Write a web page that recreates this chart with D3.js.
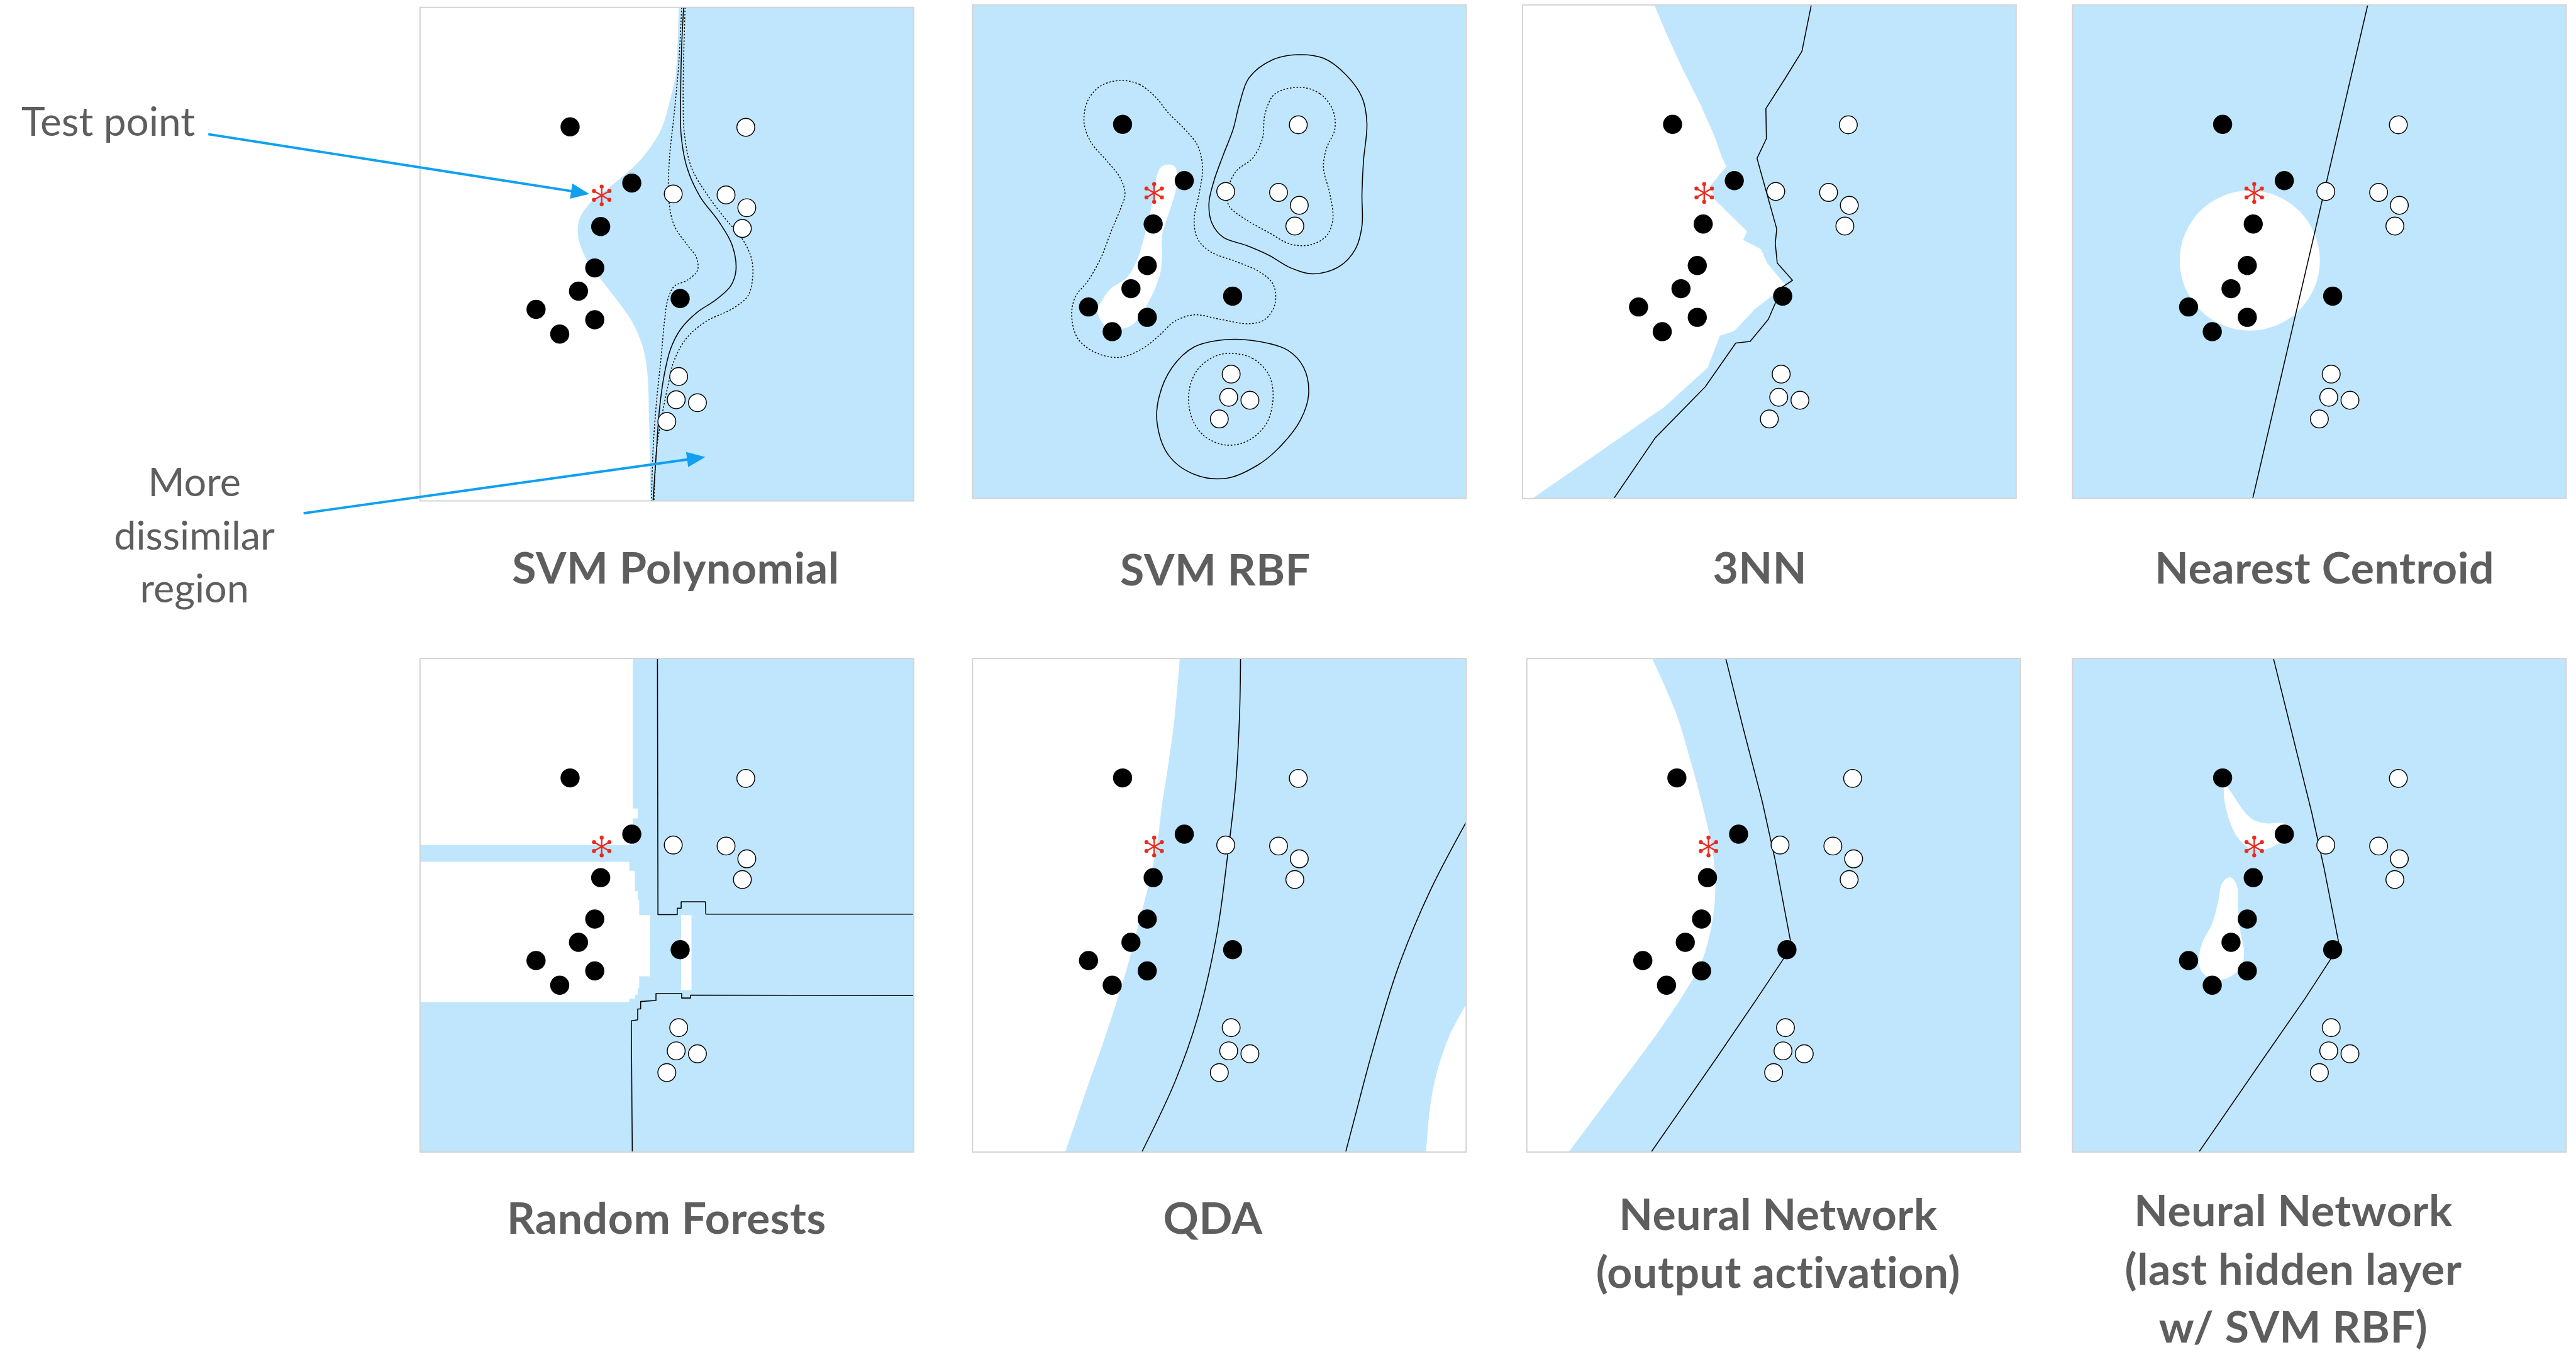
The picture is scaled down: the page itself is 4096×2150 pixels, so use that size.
<!DOCTYPE html>
<html>
<head>
<meta charset="utf-8">
<script src="https://cdn.jsdelivr.net/npm/d3@7"></script>
<style>
  html, body { margin: 0; padding: 0; background: #ffffff; }
  svg { display: block; }
</style>
</head>
<body>
<svg id="chart" width="4096" height="2150"></svg>
<script>
// ---------------------------------------------------------------
// Feature space: both axes run 0..100, y measured downward.
// ---------------------------------------------------------------

// Training samples, class A (filled) and class B (open)
const classA = [[30.4,24.2],[42.9,35.6],[36.6,44.4],[35.4,52.8],[32.1,57.5],[23.5,61.2],[35.4,63.3],[28.3,66.2],[52.7,59.0]];
const classB = [[66.0,24.3],[51.3,37.8],[62.0,38.0],[66.2,40.6],[65.3,44.8],[52.4,74.8],[51.9,79.5],[56.2,80.1],[50.0,83.9]];
const testPoint = [36.8,38.1];

// Panel titles (one entry per line)
const titles = [
  ["SVM Polynomial"], ["SVM RBF"], ["3NN"], ["Nearest Centroid"],
  ["Random Forests"], ["QDA"],
  ["Neural Network", "(output activation)"],
  ["Neural Network", "(last hidden layer", "w/ SVM RBF)"]
];
const noteTest = ["Test point"];
const noteRegion = ["More", "dissimilar", "region"];

// --- SVM polynomial -------------------------------------------
const polyRegionEdge = [[52.4,0],[51.8,13.6],[50.8,18.2],[48.9,24.6],[45.6,29.8],[42.4,33.1],[38.4,36.4],[34.5,39.6],[32.3,42.9],[32.0,46.1],[33.2,50.0],[35.8,54.0],[39.8,59.2],[43.0,63.8],[45.0,68.4],[46.0,73.5],[46.4,83.3],[46.7,100]];
const polyDecision = [[53.4,0],[53.0,8.0],[52.8,18.1],[52.9,25.9],[54.1,32.5],[56.7,38.3],[60.6,43.5],[63.2,48.1],[64.0,53.3],[62.9,56.5],[60.0,59.2],[56.0,61.9],[52.8,65.2],[50.8,69.1],[49.5,74.3],[48.5,81.5],[47.9,89.8],[47.2,100]];
const polyMarginLow = [[53.0,0],[52.4,11.6],[51.5,21.4],[50.5,31.1],[50.4,39.0],[51.5,44.2],[54.1,48.1],[56.0,50.7],[56.2,53.3],[54.1,55.3],[51.5,56.5],[50.2,59.2],[49.5,63.8],[48.9,70.3],[47.9,80.0],[47.2,89.8],[46.9,100]];
const polyMarginHigh = [[53.7,0],[53.3,18.1],[53.6,26.0],[55.0,32.5],[58.0,37.7],[61.9,42.9],[65.2,46.8],[67.1,50.7],[67.4,54.6],[66.4,58.5],[63.2,61.1],[58.0,63.6],[54.1,66.9],[51.5,71.5],[50.2,76.8],[48.9,83.3],[47.9,89.8],[47.4,100]];

// --- SVM RBF --------------------------------------------------
const rbfRegion = [[38.4,32.7],[40.4,32.4],[41.3,33.4],[41.5,35.7],[41.0,38.3],[40.0,41.5],[39.1,44.2],[38.4,46.8],[38.4,50.7],[38.1,54.0],[37.1,57.2],[35.5,60.5],[33.8,63.4],[31.9,65.1],[29.3,65.7],[27.0,65.1],[25.7,63.4],[25.3,61.8],[26.3,59.8],[28.0,57.5],[31.2,55.3],[33.2,52.0],[34.5,48.1],[35.5,44.2],[36.8,38.3],[37.4,34.4]];
const rbfMarginA = [[29.9,15.3],[33.8,16.1],[37.1,18.7],[39.7,21.9],[43.0,25.2],[45.6,28.5],[46.6,33.0],[45.9,38.3],[44.9,43.5],[45.6,47.4],[48.2,50.0],[53.4,52.0],[58.0,54.0],[60.9,56.6],[61.3,60.5],[59.3,63.7],[56.0,64.6],[50.2,63.7],[44.9,62.8],[41.0,64.1],[37.8,67.0],[34.5,69.6],[29.9,71.4],[25.3,70.6],[21.4,67.7],[20.1,63.1],[20.8,59.2],[23.4,55.9],[26.0,51.3],[28.0,46.1],[29.9,41.5],[30.9,38.3],[29.9,35.0],[27.3,31.7],[24.0,27.8],[22.6,23.9],[23.4,19.3],[26.0,16.4]];
const rbfDecisionTop = [[65.8,10.1],[71.1,10.8],[75.6,14.1],[78.9,18.7],[79.9,23.9],[79.2,31.7],[78.9,38.3],[78.9,44.8],[77.6,49.4],[74.3,53.0],[69.1,54.5],[64.5,53.3],[60.0,50.7],[55.4,48.7],[50.8,47.1],[48.5,44.2],[47.9,40.2],[48.9,35.7],[50.8,30.4],[52.8,25.2],[54.1,20.0],[56.0,14.8],[60.6,11.2]];
const rbfMarginTop = [[66.5,16.7],[70.4,18.0],[73.0,21.3],[73.4,25.2],[71.7,29.1],[71.1,33.0],[72.4,38.3],[73.0,43.5],[71.7,46.8],[68.5,48.6],[64.5,48.5],[60.0,46.1],[55.4,43.5],[52.1,40.9],[51.5,38.3],[53.4,33.7],[56.7,31.1],[58.7,27.2],[59.3,21.9],[61.3,18.0]];
const rbfDecisionLow = [[51.5,67.8],[58.0,68.2],[63.9,70.0],[67.1,73.5],[68.1,78.8],[66.5,84.0],[62.6,89.2],[58.0,93.1],[51.5,95.9],[44.9,95.1],[39.7,91.2],[37.4,84.7],[37.8,79.4],[40.4,73.5],[44.9,69.3]];
const rbfMarginLow = [[52.1,70.6],[56.7,71.6],[60.0,74.9],[60.9,79.4],[59.6,84.7],[56.0,88.2],[51.5,89.2],[46.9,87.3],[44.3,83.3],[43.9,78.1],[45.6,73.9],[48.9,71.3]];

// --- 3NN ------------------------------------------------------
const knnRegionEdge = [[26.7,0],[29.0,5.5],[32.3,12.7],[36.2,20.5],[38.8,26.4],[40.4,30.9],[41.3,32.7],[38.2,36.5],[38.7,39.2],[45.5,45.9],[44.7,47.6],[48.3,49.5],[49.6,52.4],[53.3,56.8],[47.0,61.7],[42.9,66.1],[40.0,67.0],[37.5,73.5],[28.7,81.5],[2.0,100]];
const knnDecision = [[58.5,0],[56.6,9.4],[53.2,14.9],[49.3,21.0],[49.4,27.1],[47.5,31.1],[51.5,45.4],[51.2,48.3],[51.6,52.3],[54.7,55.8],[52.6,57.2],[49.8,63.7],[46.1,68.2],[43.2,68.5],[37.0,77.4],[26.9,87.7],[18.5,100]];

// --- Nearest centroid ----------------------------------------
const centroidRegion = [[35.9,51.8,14.2]];   // centre x, centre y, radius
const centroidDecision = [[59.8,0],[36.5,100]];

// --- Random forests ------------------------------------------
const forestRegions = [
  [[0,0],[43.1,0],[43.1,30.4],[44.1,30.4],[44.1,32.4],[43.1,32.4],[43.1,37.8],[0,37.8]],
  [[0,41.2],[42.4,41.2],[42.4,43.0],[43.5,43.0],[43.5,47.1],[44.1,47.1],[44.1,48.9],[44.4,48.9],[44.4,52.0],[46.6,52.0],[46.6,64.4],[44.4,64.4],[44.4,66.7],[44.1,66.7],[44.1,68.1],[43.5,68.1],[43.5,68.9],[42.4,68.9],[42.4,69.6],[0,69.6]],
  [[52.9,52.0],[55.0,52.0],[55.0,67.2],[52.9,67.2]]
];
const forestDecisionUpper = [[48.1,0],[48.2,51.9],[52.1,51.9],[52.1,50.6],[52.9,50.6],[52.9,49.3],[57.8,49.3],[57.9,51.8],[100,51.8]];
const forestDecisionLower = [[100,68.3],[54.8,68.2],[54.8,68.8],[53.0,68.8],[53.0,67.9],[47.8,67.9],[47.8,69.3],[44.7,69.5],[44.7,71.0],[44.1,71.0],[44.1,73.2],[42.8,73.4],[43.0,100]];

// --- QDA ------------------------------------------------------
const qdaRegionLeft = [[42.0,0],[41.0,11.4],[39.7,21.3],[38.4,29.6],[37.4,37.5],[35.8,45.3],[33.8,53.2],[31.2,63.0],[27.3,75.4],[23.4,86.5],[18.8,100]];
const qdaRegionRight = [[100,70.1],[96.5,76.7],[93.9,84.5],[92.6,91.7],[91.9,100]];
const qdaDecisionA = [[54.3,0],[54.1,11.4],[53.3,25.7],[51.5,41.4],[49.5,55.8],[45.6,72.8],[41.0,85.8],[34.3,100]];
const qdaDecisionB = [[100,33.2],[92.6,47.3],[86.1,63.0],[80.9,80.0],[77.6,92.4],[75.6,100]];

// --- Neural network, output activation -----------------------
const nnRegionEdge = [[25.4,0],[30.1,10.7],[33.3,21.2],[35.9,31.0],[37.6,38.8],[38.2,46.0],[37.5,53.8],[35.3,61.7],[32.0,67.6],[26.8,75.4],[17.6,87.8],[8.5,100]];
const nnDecision = [[40.3,0],[43.8,14.0],[47.7,29.0],[50.3,40.8],[53.6,58.2],[51.9,61.0],[47.1,68.2],[38.6,80.7],[25.2,100]];

// --- Neural network, last hidden layer + SVM RBF -------------
const nnRbfRegions = [
  [[30.6,25.1],[32.1,27.1],[35.0,31.3],[37.0,32.9],[39.3,33.4],[43.2,33.6],[43.8,36.2],[41.9,37.4],[38.6,38.8],[36.0,38.5],[33.4,36.2],[31.8,32.9],[30.8,29.0],[30.6,25.8]],
  [[32.1,44.4],[33.3,46.0],[33.5,50.6],[34.1,55.8],[34.7,59.1],[34.4,62.0],[32.7,64.0],[30.1,65.1],[27.5,64.6],[25.9,63.0],[25.6,60.4],[26.5,57.1],[28.2,53.9],[29.5,49.3],[30.1,46.0],[31.0,44.7]]
];
const nnRbfDecision = [[40.7,0],[44.5,15.3],[48.4,31.0],[51.0,42.7],[54.0,58.0],[52.3,60.9],[47.1,68.9],[38.0,82.0],[25.6,100]];

// ---------------------------------------------------------------
// Drawing
// ---------------------------------------------------------------
const SCALE = 0.975;
const SIZE = 805;
const BLUE = "#bfe6fd";
const INK = "#5e5e5e";
const ARROW = "#10a0ef";
const RED = "#ec2a1d";
const FONT = "Lato, 'Open Sans', sans-serif";

const svg = d3.select("#chart");
const defs = svg.append("defs");
const root = svg.append("g").attr("transform", `scale(${SCALE})`);

// panel origins (top-left corners)
const origins = [[685,12],[1586,8],[2483,8],[3380,8],[685,1074],[1586,1074],[2490,1074],[3380,1074]];

function makePanel(i, background) {
  const [px, py] = origins[i];
  const x = d3.scaleLinear().domain([0, 100]).range([px, px + SIZE]);
  const y = d3.scaleLinear().domain([0, 100]).range([py, py + SIZE]);
  defs.append("clipPath").attr("id", "clip" + i)
    .append("rect").attr("x", px).attr("y", py).attr("width", SIZE).attr("height", SIZE);
  const g = root.append("g").attr("class", "panel");
  const inner = g.append("g").attr("clip-path", `url(#clip${i})`);
  inner.append("rect").attr("x", x(0)).attr("y", y(0))
    .attr("width", x(100) - x(0)).attr("height", y(100) - y(0))
    .attr("fill", background);
  return { i, x, y, g, inner };
}

const smooth = d3.curveCatmullRom.alpha(0.5);
const smoothClosed = d3.curveCatmullRomClosed.alpha(0.5);

function areaToRight(p, edge, fill, curve) {
  const a = d3.area().curve(curve)
    .y(d => p.y(d[1])).x0(d => p.x(d[0])).x1(p.x(100));
  p.inner.append("path").attr("d", a(edge)).attr("fill", fill);
}
function areaToLeft(p, edge, fill, curve) {
  const a = d3.area().curve(curve)
    .y(d => p.y(d[1])).x0(p.x(0)).x1(d => p.x(d[0]));
  p.inner.append("path").attr("d", a(edge)).attr("fill", fill);
}
function shape(p, pts, fill, curve) {
  const l = d3.line().curve(curve).x(d => p.x(d[0])).y(d => p.y(d[1]));
  p.inner.append("path").attr("d", l(pts)).attr("fill", fill);
}
function contour(p, pts, curve, dotted) {
  const l = d3.line().curve(curve).x(d => p.x(d[0])).y(d => p.y(d[1]));
  p.inner.append("path").attr("d", l(pts))
    .attr("fill", "none").attr("stroke", "#000")
    .attr("stroke-width", dotted ? 1.5 : 1.6)
    .attr("stroke-dasharray", dotted ? "2.6,2.8" : null)
    .attr("stroke-linejoin", "round");
}
function samples(p) {
  p.inner.selectAll(null).data(classA).join("circle")
    .attr("cx", d => p.x(d[0])).attr("cy", d => p.y(d[1]))
    .attr("r", 15.6).attr("fill", "#000");
  p.inner.selectAll(null).data(classB).join("circle")
    .attr("cx", d => p.x(d[0])).attr("cy", d => p.y(d[1]))
    .attr("r", 14.6).attr("fill", "#fff")
    .attr("stroke", "#000").attr("stroke-width", 1.5);
  const cx = p.x(testPoint[0]), cy = p.y(testPoint[1]);
  const star = p.inner.append("g").attr("transform", `translate(${cx},${cy})`);
  const arms = d3.range(6).map(k => Math.PI / 2 + k * Math.PI / 3);
  const L = 14.5;
  star.selectAll("line").data(arms).join("line")
    .attr("x1", 0).attr("y1", 0)
    .attr("x2", a => L * Math.cos(a)).attr("y2", a => -L * Math.sin(a))
    .attr("stroke", RED).attr("stroke-width", 2.4);
  star.selectAll("circle").data(arms).join("circle")
    .attr("cx", a => L * Math.cos(a)).attr("cy", a => -L * Math.sin(a))
    .attr("r", 3.3).attr("fill", RED);
}
function frame(p) {
  p.g.append("rect").attr("x", p.x(0)).attr("y", p.y(0))
    .attr("width", p.x(100) - p.x(0)).attr("height", p.y(100) - p.y(0))
    .attr("fill", "none").attr("stroke", "#d3d3d3").attr("stroke-width", 2);
}

// 1: SVM Polynomial
const p1 = makePanel(0, "#fff");
areaToRight(p1, polyRegionEdge, BLUE, smooth);
contour(p1, polyMarginLow, smooth, true);
contour(p1, polyMarginHigh, smooth, true);
contour(p1, polyDecision, smooth, false);
samples(p1); frame(p1);

// 2: SVM RBF
const p2 = makePanel(1, BLUE);
shape(p2, rbfRegion, "#fff", smoothClosed);
contour(p2, rbfMarginA, smoothClosed, true);
contour(p2, rbfMarginTop, smoothClosed, true);
contour(p2, rbfMarginLow, smoothClosed, true);
contour(p2, rbfDecisionTop, smoothClosed, false);
contour(p2, rbfDecisionLow, smoothClosed, false);
samples(p2); frame(p2);

// 3: 3NN
const p3 = makePanel(2, "#fff");
areaToRight(p3, knnRegionEdge, BLUE, d3.curveLinear);
contour(p3, knnDecision, d3.curveLinear, false);
samples(p3); frame(p3);

// 4: Nearest Centroid
const p4 = makePanel(3, BLUE);
p4.inner.selectAll(null).data(centroidRegion).join("circle")
  .attr("cx", d => p4.x(d[0])).attr("cy", d => p4.y(d[1]))
  .attr("r", d => p4.x(d[2]) - p4.x(0)).attr("fill", "#fff");
contour(p4, centroidDecision, d3.curveLinear, false);
samples(p4); frame(p4);

// 5: Random Forests
const p5 = makePanel(4, BLUE);
forestRegions.forEach(r => shape(p5, r, "#fff", d3.curveLinearClosed));
contour(p5, forestDecisionUpper, d3.curveLinear, false);
contour(p5, forestDecisionLower, d3.curveLinear, false);
samples(p5); frame(p5);

// 6: QDA
const p6 = makePanel(5, BLUE);
areaToLeft(p6, qdaRegionLeft, "#fff", smooth);
areaToRight(p6, qdaRegionRight, "#fff", smooth);
contour(p6, qdaDecisionA, smooth, false);
contour(p6, qdaDecisionB, smooth, false);
samples(p6); frame(p6);

// 7: Neural network (output activation)
const p7 = makePanel(6, BLUE);
areaToLeft(p7, nnRegionEdge, "#fff", smooth);
contour(p7, nnDecision, d3.curveLinear, false);
samples(p7); frame(p7);

// 8: Neural network (last hidden layer w/ SVM RBF)
const p8 = makePanel(7, BLUE);
nnRbfRegions.forEach(r => shape(p8, r, "#fff", smoothClosed));
contour(p8, nnRbfDecision, d3.curveLinear, false);
samples(p8); frame(p8);

// ---------------------------------------------------------------
// Titles
// ---------------------------------------------------------------
const titleAnchors = [[1102,952],[1982,955],[2870,952],[3791,952],[1087,2012],[1978,2012],[2900,2006],[3740,2000]];
const LINE = 95;
titles.forEach((lines, i) => {
  const [tx, ty] = titleAnchors[i];
  const t = root.append("text")
    .attr("x", tx).attr("y", ty)
    .attr("text-anchor", "middle")
    .attr("font-family", FONT)
    .attr("font-weight", 700)
    .attr("font-size", 71.5)
    .attr("letter-spacing", 0.6)
    .attr("fill", INK);
  lines.forEach((s, k) => t.append("tspan").attr("x", tx).attr("y", ty + k * LINE).text(s));
});

// ---------------------------------------------------------------
// Annotations (arrows are placed in the first panel's coordinates)
// ---------------------------------------------------------------
function arrow(from, to) {
  const x0 = p1.x(from[0]), y0 = p1.y(from[1]);
  const x1 = p1.x(to[0]), y1 = p1.y(to[1]);
  const dx = x1 - x0, dy = y1 - y0, len = Math.hypot(dx, dy);
  const ux = dx / len, uy = dy / len;
  const head = 30, half = 12.5;
  const bx = x1 - ux * head, by = y1 - uy * head;
  root.append("line")
    .attr("x1", x0).attr("y1", y0).attr("x2", bx + ux * 2).attr("y2", by + uy * 2)
    .attr("stroke", ARROW).attr("stroke-width", 4);
  root.append("path")
    .attr("d", `M${x1},${y1}L${bx - uy * half},${by + ux * half}L${bx + uy * half},${by - ux * half}Z`)
    .attr("fill", ARROW);
}
arrow([-42.9, 25.7], [34.3, 37.8]);
arrow([-23.6, 102.5], [57.8, 91.1]);

root.append("text")
  .attr("x", 35).attr("y", 222)
  .attr("font-family", FONT)
  .attr("font-size", 65.5).attr("fill", INK)
  .text(noteTest[0]);

const note = root.append("text")
  .attr("text-anchor", "middle")
  .attr("font-family", FONT)
  .attr("font-size", 64.5).attr("fill", INK);
noteRegion.forEach((s, k) => note.append("tspan").attr("x", 317).attr("y", 809 + k * 87).text(s));
</script>
</body>
</html>
